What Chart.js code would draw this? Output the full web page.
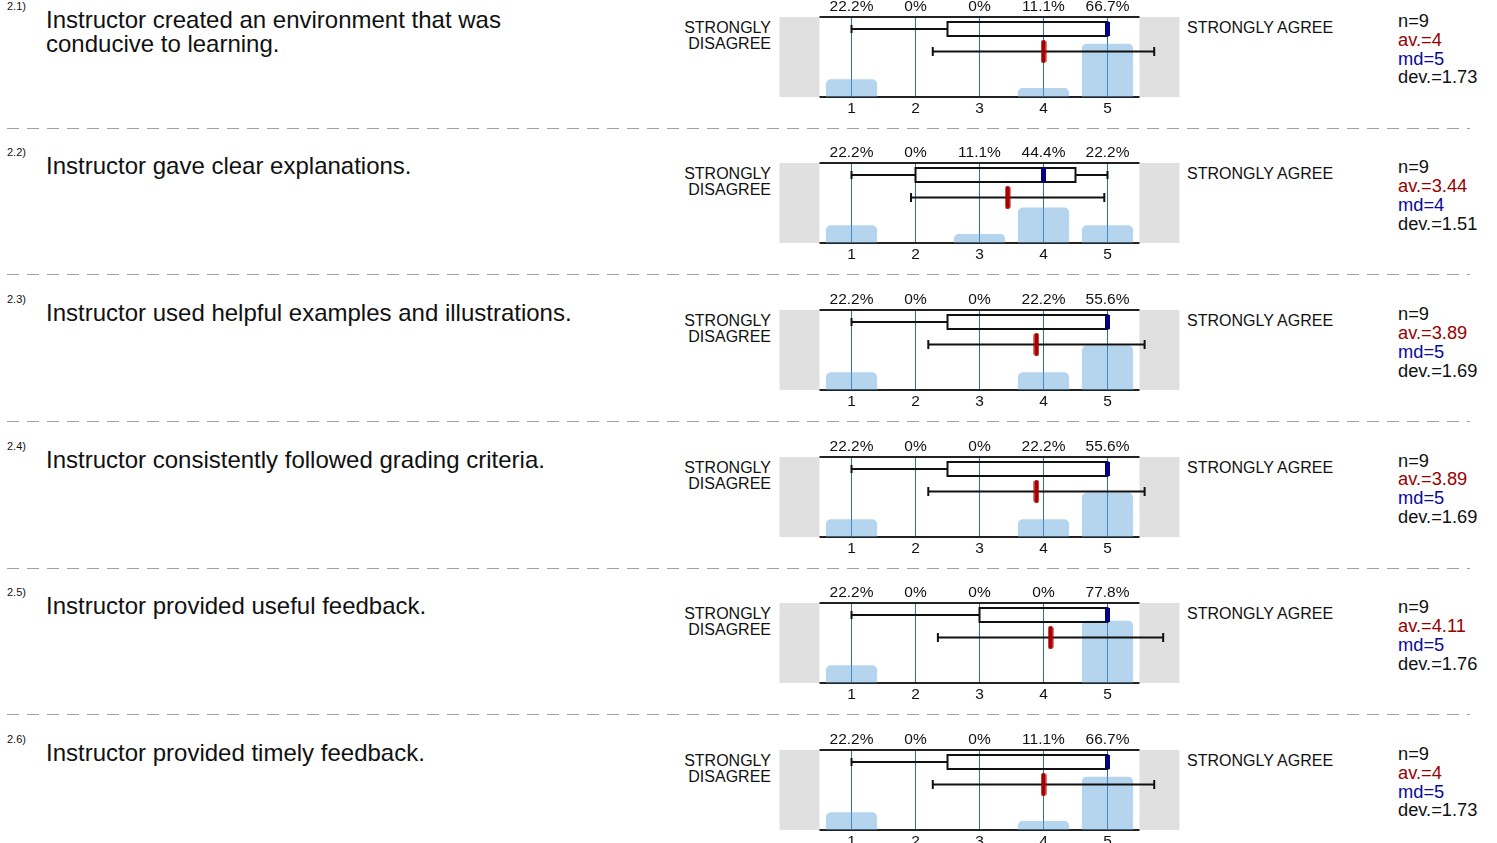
<!DOCTYPE html>
<html>
<head>
<meta charset="utf-8">
<script src="https://cdn.jsdelivr.net/npm/chart.js@4.4.1/dist/chart.umd.min.js"></script>
<style>
  body { margin: 0; width: 1497px; height: 843px; overflow: hidden; background: #fff;
         font-family: "Liberation Sans", Arial, sans-serif; color: #111; position: relative; }
  .abs { position: absolute; }
  .num { font-size: 11px; line-height: 12px; }
  .q { font-size: 24px; line-height: 24px; white-space: pre-line; }
  .lab { font-size: 16px; line-height: 16px; }
  .stats { font-size: 18.3px; line-height: 18.9px; }
  .sep { height: 1px; background: repeating-linear-gradient(to right, #a0a0a0 0 12px, transparent 12px 20px); }
</style>
</head>
<body>
<script>
// survey data, one entry per question
const questionIds = ['2.1)', '2.2)', '2.3)', '2.4)', '2.5)', '2.6)'];
const questions = [
  'Instructor created an environment that was\nconducive to learning.',
  'Instructor gave clear explanations.',
  'Instructor used helpful examples and illustrations.',
  'Instructor consistently followed grading criteria.',
  'Instructor provided useful feedback.',
  'Instructor provided timely feedback.'
];
const categories = [1, 2, 3, 4, 5];
const percents = [
  [22.2, 0, 0, 11.1, 66.7],
  [22.2, 0, 11.1, 44.4, 22.2],
  [22.2, 0, 0, 22.2, 55.6],
  [22.2, 0, 0, 22.2, 55.6],
  [22.2, 0, 0, 0, 77.8],
  [22.2, 0, 0, 11.1, 66.7]
];
const counts = [9, 9, 9, 9, 9, 9];
const means = [4, 3.44, 3.89, 3.89, 4.11, 4];
const medians = [5, 4, 5, 5, 5, 5];
const devs = [1.73, 1.51, 1.69, 1.69, 1.76, 1.73];
const mins = [1, 1, 1, 1, 1, 1];
const q1s = [2.5, 2, 2.5, 2.5, 3, 2.5];
const q3s = [5, 4.5, 5, 5, 5, 5];
const maxs = [5, 5, 5, 5, 5, 5];
const leftLabel = 'STRONGLY\nDISAGREE';
const rightLabel = 'STRONGLY AGREE';

// layout
const ROW_TOP = 16.7, ROW_STEP = 146.6;
const X_MIN = 0.5, X_MAX = 5.5, SIDE = 0.625;
const BOX_Y = 85, BOX_HALF = 8.75, MEAN_Y = 57;

Chart.defaults.font.family = '"Liberation Sans", Arial, sans-serif';
Chart.defaults.color = '#111';

// gray side panels and the axis lines between them
const sidePanels = {
  id: 'sidePanels',
  beforeDatasetsDraw(chart) {
    const {ctx, chartArea, scales: {x}} = chart;
    const b = x.getPixelForValue(X_MIN), c = x.getPixelForValue(X_MAX);
    ctx.save();
    ctx.fillStyle = '#e0e0e0';
    ctx.fillRect(chartArea.left, chartArea.top, b - chartArea.left, chartArea.height);
    ctx.fillRect(c, chartArea.top, chartArea.right - c, chartArea.height);
    ctx.strokeStyle = '#222';
    ctx.lineWidth = 2;
    ctx.beginPath();
    ctx.moveTo(b, chartArea.top); ctx.lineTo(c, chartArea.top);
    ctx.moveTo(b, chartArea.bottom); ctx.lineTo(c, chartArea.bottom);
    ctx.stroke();
    ctx.restore();
  }
};

// rounded red marker used as point style for the mean
const meanMark = document.createElement('canvas');
meanMark.width = 6; meanMark.height = 23;
(function () {
  const c = meanMark.getContext('2d');
  c.fillStyle = '#a80000';
  c.beginPath();
  c.roundRect(0.5, 0, 5, 23, 2.5);
  c.fill();
})();

function addDiv(cls, text, style) {
  const el = document.createElement('div');
  el.className = 'abs ' + cls;
  el.textContent = text;
  Object.assign(el.style, style);
  document.body.appendChild(el);
  return el;
}

function setTicks(scale) {
  scale.ticks = categories.map(v => ({value: v}));
}

function fitAxis(scale) {
  scale.height = 30;
  scale.paddingLeft = 0;
  scale.paddingRight = 0;
}

function drawRow(k) {
  const T = ROW_TOP + ROW_STEP * k;

  addDiv('num', questionIds[k], {left: '7px', top: (T - 17) + 'px'});
  addDiv('q', questions[k], {left: '46px', top: (T - 9) + 'px'});
  addDiv('lab', leftLabel, {right: (1497 - 771) + 'px', top: (T + 3) + 'px', textAlign: 'right', whiteSpace: 'pre-line'});
  addDiv('lab', rightLabel, {left: '1187px', top: (T + 3) + 'px'});

  const st = addDiv('stats', '', {left: '1398px', top: (T - 5) + 'px'});
  st.innerHTML = '<div>n=' + counts[k] + '</div>' +
    '<div style="color:#990000">av.=' + means[k] + '</div>' +
    '<div style="color:#0a0a96">md=' + medians[k] + '</div>' +
    '<div>dev.=' + devs[k] + '</div>';

  if (k < questions.length - 1) {
    addDiv('sep', '', {left: '7px', width: '1463px', top: (T + 111) + 'px'});
  }

  const canvas = document.createElement('canvas');
  canvas.width = 425;
  canvas.height = 140;
  canvas.className = 'abs';
  canvas.style.left = '767px';
  canvas.style.top = (T - 30) + 'px';
  document.body.appendChild(canvas);

  const m = means[k], d = devs[k];
  const capLine = {
    type: 'line', borderColor: '#111', borderWidth: 2, pointStyle: 'line', pointRotation: 90,
    pointBorderColor: '#111', pointBorderWidth: 2, tension: 0
  };

  new Chart(canvas, {
    type: 'bar',
    data: {
      datasets: [
        {
          data: categories.map((c, i) => ({x: c, y: percents[k][i]})),
          backgroundColor: 'rgba(100,165,220,0.48)',
          borderRadius: 5,
          borderSkipped: 'bottom',
          barPercentage: 1,
          categoryPercentage: 0.8,
          order: 5
        },
        Object.assign({}, capLine, {
          data: [{x: mins[k], y: BOX_Y}, {x: q1s[k], y: BOX_Y}, {x: null, y: null},
                 {x: q3s[k], y: BOX_Y}, {x: maxs[k], y: BOX_Y}],
          pointRadius: [4, 0, 0, 0, 4],
          spanGaps: false,
          order: 3
        }),
        {
          type: 'line',
          data: [{x: q1s[k], y: BOX_Y - BOX_HALF}, {x: q3s[k], y: BOX_Y - BOX_HALF},
                 {x: q3s[k], y: BOX_Y + BOX_HALF}, {x: q1s[k], y: BOX_Y + BOX_HALF},
                 {x: q1s[k], y: BOX_Y - BOX_HALF}],
          borderColor: '#111', borderWidth: 2, borderCapStyle: 'square', borderJoinStyle: 'miter',
          pointRadius: 0, tension: 0, order: 2
        },
        {
          type: 'line',
          data: [{x: medians[k], y: BOX_Y}],
          showLine: false, pointStyle: 'line', pointRotation: 90, pointRadius: 7,
          pointBorderWidth: 5, pointBorderColor: '#000080', order: 1
        },
        Object.assign({}, capLine, {
          data: [{x: m - d, y: MEAN_Y}, {x: m + d, y: MEAN_Y}],
          pointRadius: 4.5,
          order: 2
        }),
        {
          type: 'line',
          data: [{x: m, y: MEAN_Y}],
          showLine: false, pointStyle: meanMark, pointRadius: 11.5, order: 0
        }
      ]
    },
    options: {
      responsive: false,
      animation: false,
      events: [],
      layout: {padding: {left: 9, right: 11, top: 0, bottom: 0}},
      plugins: {legend: {display: false}, tooltip: {enabled: false}},
      scales: {
        x: {
          type: 'linear', position: 'bottom', min: X_MIN - SIDE, max: X_MAX + SIDE, offset: false,
          afterBuildTicks: setTicks,
          afterFit: fitAxis,
          grid: {color: '#2f6ea8', lineWidth: 1, drawTicks: false, offset: false},
          border: {display: false},
          ticks: {padding: 2, font: {size: 15.5}, color: '#111'}
        },
        x2: {
          type: 'linear', position: 'top', min: X_MIN - SIDE, max: X_MAX + SIDE, offset: false,
          afterBuildTicks: setTicks,
          afterFit: fitAxis,
          grid: {display: false, drawTicks: false, offset: false},
          border: {display: false},
          ticks: {
            padding: 0.5, font: {size: 15.5}, color: '#111',
            callback: v => percents[k][categories.indexOf(v)] + '%'
          }
        },
        y: {type: 'linear', min: 0, max: 100, display: false}
      }
    },
    plugins: [sidePanels]
  });
}

questions.forEach((q, k) => drawRow(k));
</script>
</body>
</html>
